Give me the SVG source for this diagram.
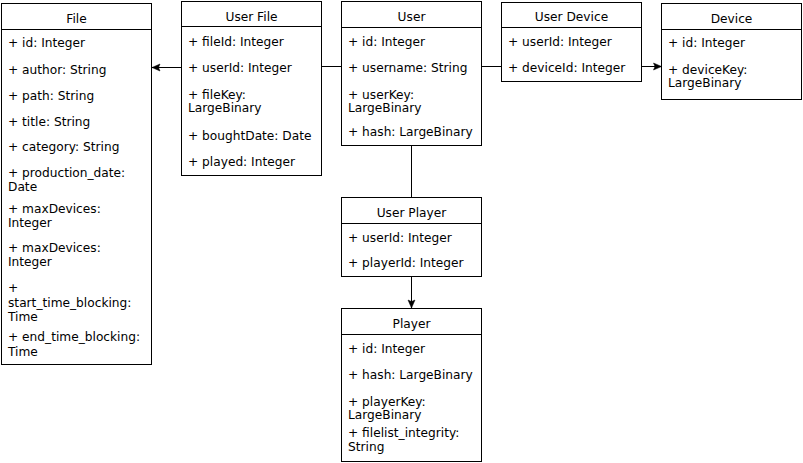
<svg xmlns="http://www.w3.org/2000/svg" width="803" height="463" viewBox="0 0 803 463">
  <style>
    .box { fill: #ffffff; stroke: #000000; stroke-width: 1; }
    .sep { stroke: #000000; stroke-width: 1; }
    text { font-family: "DejaVu Sans", "Liberation Sans", sans-serif; font-size: 12.2px; font-weight: normal; fill: #000000; }
    .title { text-anchor: middle; }
    .edge { stroke: #000000; stroke-width: 1; fill: none; }
  </style>
  <defs>
    <marker id="arrow" markerUnits="userSpaceOnUse" markerWidth="10" markerHeight="10" viewBox="0 0 10 10" refX="9" refY="5" orient="auto">
      <path d="M1,1.5 L9,5 L1,8.5 L2.5,5 Z" fill="#000000" stroke="#000000" stroke-width="0.5"/>
    </marker>
  </defs>
  <rect width="803" height="463" fill="#ffffff"/>

  <g id="connectors">
    <path class="edge" d="M181.5,67.5 L152,67.5" marker-end="url(#arrow)"/>
    <path class="edge" d="M341.5,66.5 L321.5,66.5"/>
    <path class="edge" d="M482,66.5 L501.5,66.5"/>
    <path class="edge" d="M641.5,66.5 L661.5,66.5" marker-end="url(#arrow)"/>
    <path class="edge" d="M411.5,145.5 L411.5,197.5"/>
    <path class="edge" d="M411.5,276.5 L411.5,308" marker-end="url(#arrow)"/>
  </g>

  <g id="file">
    <rect class="box" x="1.5" y="3.5" width="150" height="361"/>
    <line class="sep" x1="1.5" y1="29.5" x2="151.5" y2="29.5"/>
    <text class="title" x="76.5" y="22.5">File</text>
    <text x="8" y="47.3">+ id: Integer</text>
    <text x="8" y="74">+ author: String</text>
    <text x="8" y="100">+ path: String</text>
    <text x="8" y="125.7">+ title: String</text>
    <text x="8" y="151.3">+ category: String</text>
    <text x="8" y="177.3">+ production_date:</text>
    <text x="8" y="191.3">Date</text>
    <text x="8" y="213.3">+ maxDevices:</text>
    <text x="8" y="227.3">Integer</text>
    <text x="8" y="252.3">+ maxDevices:</text>
    <text x="8" y="266">Integer</text>
    <text x="8" y="292.3">+</text>
    <text x="8" y="306.7">start_time_blocking:</text>
    <text x="8" y="320.7">Time</text>
    <text x="8" y="340.5">+ end_time_blocking:</text>
    <text x="8" y="355.7">Time</text>
  </g>

  <g id="user-file">
    <rect class="box" x="181.5" y="1.5" width="140" height="174"/>
    <line class="sep" x1="181.5" y1="26.5" x2="321.5" y2="26.5"/>
    <text class="title" x="251.5" y="20.5">User File</text>
    <text x="188" y="45.7">+ fileId: Integer</text>
    <text x="188" y="71.7">+ userId: Integer</text>
    <text x="188" y="99">+ fileKey:</text>
    <text x="188" y="112.3">LargeBinary</text>
    <text x="188" y="139.7">+ boughtDate: Date</text>
    <text x="188" y="165.7">+ played: Integer</text>
  </g>

  <g id="user">
    <rect class="box" x="341.5" y="1.5" width="140" height="144"/>
    <line class="sep" x1="341.5" y1="27.5" x2="481.5" y2="27.5"/>
    <text class="title" x="411.5" y="21">User</text>
    <text x="348" y="46.3">+ id: Integer</text>
    <text x="348" y="71.7">+ username: String</text>
    <text x="348" y="99">+ userKey:</text>
    <text x="348" y="112.3">LargeBinary</text>
    <text x="348" y="135.7">+ hash: LargeBinary</text>
  </g>

  <g id="user-device">
    <rect class="box" x="501.5" y="2.5" width="140" height="79"/>
    <line class="sep" x1="501.5" y1="27.5" x2="641.5" y2="27.5"/>
    <text class="title" x="571.5" y="21">User Device</text>
    <text x="508" y="46.3">+ userId: Integer</text>
    <text x="508" y="72.3">+ deviceId: Integer</text>
  </g>

  <g id="device">
    <rect class="box" x="661.5" y="3.5" width="140" height="96"/>
    <line class="sep" x1="661.5" y1="29.5" x2="801.5" y2="29.5"/>
    <text class="title" x="731.5" y="22.7">Device</text>
    <text x="668" y="47.3">+ id: Integer</text>
    <text x="668" y="74">+ deviceKey:</text>
    <text x="668" y="87.3">LargeBinary</text>
  </g>

  <g id="user-player">
    <rect class="box" x="341.5" y="197.5" width="140" height="79"/>
    <line class="sep" x1="341.5" y1="223.5" x2="481.5" y2="223.5"/>
    <text class="title" x="411.5" y="216.7">User Player</text>
    <text x="348" y="241.7">+ userId: Integer</text>
    <text x="348" y="267.3">+ playerId: Integer</text>
  </g>

  <g id="player">
    <rect class="box" x="341.5" y="308.5" width="140" height="153"/>
    <line class="sep" x1="341.5" y1="334.5" x2="481.5" y2="334.5"/>
    <text class="title" x="411.5" y="327.7">Player</text>
    <text x="348" y="353">+ id: Integer</text>
    <text x="348" y="379">+ hash: LargeBinary</text>
    <text x="348" y="405.7">+ playerKey:</text>
    <text x="348" y="419">LargeBinary</text>
    <text x="348" y="437.3">+ filelist_integrity:</text>
    <text x="348" y="450.7">String</text>
  </g>
</svg>
